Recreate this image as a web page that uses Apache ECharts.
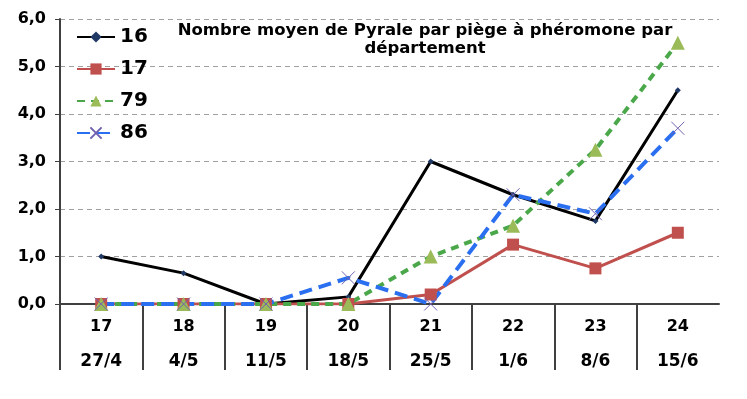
<!DOCTYPE html>
<html>
<head>
<meta charset="utf-8">
<script src="https://cdn.jsdelivr.net/npm/echarts@6/dist/echarts.min.js"></script>
<style>
  html, body { margin: 0; padding: 0; background: #fff; }
  #chart { width: 747px; height: 399px; }
</style>
</head>
<body>
<div id="chart"></div>
<script>
// semaines et dates
const weeks = ['17', '18', '19', '20', '21', '22', '23', '24']
const dates = ['27/4', '4/5', '11/5', '18/5', '25/5', '1/6', '8/6', '15/6']

// valeurs par département
const dep16 = [1.0, 0.65, 0, 0.15, 3.0, 2.3, 1.75, 4.5]
const dep17 = [0, 0, 0, 0, 0.2, 1.25, 0.75, 1.5]
const dep79 = [0, 0, 0, 0, 1.0, 1.65, 3.25, 5.5]
const dep86 = [0, 0, 0, 0.55, 0, 2.3, 1.9, 3.7]

// séparateurs entre les semaines (pas de trait à droite)
const separators = weeks.map((w, i) => i)

const font = 'DejaVu Sans, Verdana, sans-serif'

const chart = echarts.init(document.getElementById('chart'))
chart.setOption({
    animation: false,
    title: {
        text: 'Nombre moyen de Pyrale par piège à phéromone par\ndépartement',
        left: 420,
        top: 17,
        textAlign: 'center',
        textStyle: { fontFamily: font, fontSize: 16.5, fontWeight: 'bold', color: '#000', lineHeight: 18 }
    },
    legend: {
        orient: 'vertical',
        left: 71,
        top: 22,
        itemGap: 12,
        itemWidth: 38,
        itemHeight: 14,
        textStyle: { fontFamily: font, fontSize: 20, fontWeight: 'bold', color: '#000' }
    },
    grid: { left: 60, right: 28, top: 19, bottom: 95 },
    xAxis: [
        {
            type: 'category',
            data: weeks,
            axisLine: { show: true, lineStyle: { color: '#404040', width: 2 } },
            axisTick: { show: false },
            axisLabel: {
                margin: 5,
                formatter: (v, i) => '{w|' + v + '}\n{d|' + dates[i] + '}',
                rich: {
                    w: { fontFamily: font, fontSize: 16, fontWeight: 'bold', color: '#000', lineHeight: 35 },
                    d: { fontFamily: font, fontSize: 17, fontWeight: 'bold', color: '#000', lineHeight: 35 }
                }
            }
        },
        {
            type: 'value',
            position: 'bottom',
            min: 0,
            max: weeks.length,
            axisLine: { show: false },
            splitLine: { show: false },
            axisLabel: { show: false },
            axisTick: {
                show: true,
                customValues: separators,
                length: 66,
                lineStyle: { color: '#404040', width: 2 }
            }
        }
    ],
    yAxis: {
        type: 'value',
        min: 0,
        max: 6,
        interval: 1,
        axisLine: { show: true, lineStyle: { color: '#404040', width: 2 } },
        axisTick: { show: true, length: 5, lineStyle: { color: '#404040', width: 1 } },
        axisLabel: {
            margin: 14,
            fontFamily: font, fontSize: 16, fontWeight: 'bold', color: '#000',
            formatter: v => v.toFixed(1).replace('.', ',')
        },
        splitLine: { lineStyle: { color: '#a0a0a0', type: [5, 4], width: 1 } }
    },
    series: [
        {
            name: '16', type: 'line', data: dep16,
            symbol: 'diamond', symbolSize: 6,
            lineStyle: { color: '#000', width: 3 },
            itemStyle: { color: '#1f3864' }
        },
        {
            name: '17', type: 'line', data: dep17,
            symbol: 'rect', symbolSize: 12,
            lineStyle: { color: '#c0504d', width: 3 },
            itemStyle: { color: '#c0504d' }
        },
        {
            name: '79', type: 'line', data: dep79,
            symbol: 'triangle', symbolSize: 14,
            lineStyle: { color: '#4aa84a', width: 4, type: [8, 6] },
            itemStyle: { color: '#9bbb59' }
        },
        {
            name: '86', type: 'line', data: dep86,
            symbol: 'path://M0,0L10,10M10,0L0,10', symbolSize: 13,
            lineStyle: { color: '#2a6ff0', width: 4, type: [13, 7] },
            itemStyle: { color: 'none', borderColor: '#7060b0', borderWidth: 1 }
        }
    ]
})
</script>
</body>
</html>
